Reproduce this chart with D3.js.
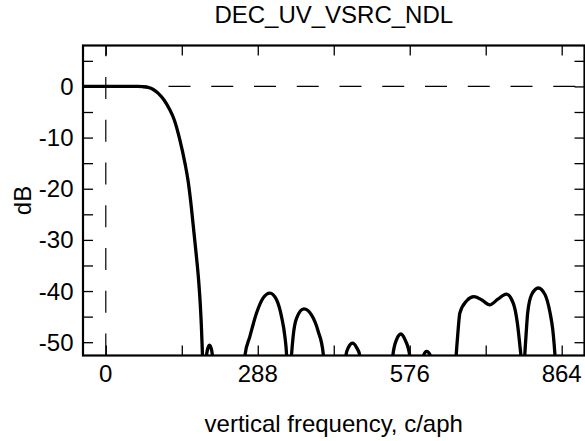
<!DOCTYPE html>
<html>
<head>
<meta charset="utf-8">
<script src="https://cdn.jsdelivr.net/npm/d3@7/dist/d3.min.js"></script>
<style>
  html, body { margin: 0; padding: 0; background: #fff; }
  svg { display: block; }
  text { font-family: "Liberation Sans", Arial, Helvetica, sans-serif; fill: #000; }
</style>
</head>
<body>
<svg id="chart" width="585" height="441"></svg>
<script>
// ---- data ----
const title = "DEC_UV_VSRC_NDL";
const xLabel = "vertical frequency, c/aph";
const yLabel = "dB";

const freq = [
  -43.2, 0, 30, 60, 70, 80, 90, 100, 110, 120, 130, 140, 150, 156, 162, 167, 172, 176, 179, 181, 182.5, 184, 186.5,
  189, 192, 196.5, 201, 204, 230,
  262, 264, 273, 285.7, 298, 311, 323.6, 333, 339.4, 342.6, 344, 347,
  350, 352, 355, 361.6, 375.4, 390, 402.6, 412, 414, 434,
  453, 455, 460, 467.7, 475, 481.5, 483, 512,
  542, 544, 551, 559.3, 567, 576, 578, 590,
  600, 602, 608, 615, 617, 640,
  662, 664, 667, 671, 684, 697.5, 712, 727.5, 743, 759, 772.3, 780, 785, 787, 789, 790.5,
  792, 794, 796.5, 799.5, 807, 819.7, 832.4, 842, 847, 849.5, 851.3, 853, 870, 907.2
];
const gain = [
  0, 0, 0, 0, -0.05, -0.2, -0.6, -1.4, -2.6, -4.3, -6.6, -10.3, -15.0, -18.5, -23.5, -28.5, -33.5, -38, -42.5, -46.5, -50.5, -55, -62,
  -55, -51.8, -50.6, -51.8, -55, -70,
  -56, -52.4, -48.9, -44.3, -41.4, -40.4, -41.7, -45, -48.9, -52.5, -56, -65,
  -56, -52.5, -48.9, -45.3, -43.5, -44.7, -47.9, -52.2, -56, -70,
  -56, -52.6, -51, -50.2, -51, -52.6, -56, -70,
  -56, -52.6, -49.5, -48.4, -49.5, -52.6, -56, -65,
  -56, -52.6, -51.8, -52.6, -56, -70,
  -56, -52.6, -48.5, -44.3, -41.9, -41.1, -41.7, -42.7, -41.6, -40.6, -42.4, -46.3, -50.9, -53, -57, -62,
  -57, -52.6, -48.5, -44.3, -40.7, -39.4, -40.7, -44.3, -47.5, -50.2, -52.6, -56, -70, -75
];

const xDomain = [-43.2, 907.2];
const yDomain = [-52.6, 8];
const xTickValues = [0, 144, 288, 432, 576, 720, 864];
const xTickLabels = [0, 288, 576, 864];
const yTickValues = [5, 0, -5, -10, -15, -20, -25, -30, -35, -40, -45, -50];
const yTickLabels = [0, -10, -20, -30, -40, -50];

// ---- layout ----
const L = 83, R = 584.5, T = 45.5, B = 355.5;
const svg = d3.select("#chart");
const x = d3.scaleLinear().domain(xDomain).range([L, R]);
const y = d3.scaleLinear().domain(yDomain).range([B, T]);

svg.append("defs").append("clipPath").attr("id", "plotclip")
  .append("rect").attr("x", L).attr("y", T).attr("width", R - L).attr("height", B - T);

const plot = svg.append("g").attr("clip-path", "url(#plotclip)");

// dashed reference lines at 0 dB and 0 frequency
plot.append("line")
  .attr("x1", x(xDomain[0])).attr("x2", x(xDomain[1]))
  .attr("y1", y(0)).attr("y2", y(0))
  .attr("stroke", "#000").attr("stroke-width", 1.2)
  .attr("stroke-dasharray", "22,20.75");
plot.append("line")
  .attr("x1", x(0)).attr("x2", x(0))
  .attr("y1", y(yDomain[0])).attr("y2", y(yDomain[1]))
  .attr("stroke", "#000").attr("stroke-width", 1.2)
  .attr("stroke-dasharray", "22,20.75");

// response curve
const pts = freq.map((f, i) => [f, gain[i]]);
const line = d3.line().x(d => x(d[0])).y(d => y(d[1])).curve(d3.curveMonotoneX);
plot.append("path").datum(pts)
  .attr("d", line)
  .attr("fill", "none").attr("stroke", "#000")
  .attr("stroke-width", 3.3).attr("stroke-linejoin", "round");

// axes with inward ticks
const tickLen = 10;
const axBottom = d3.axisBottom(x).tickValues(xTickValues).tickSize(-tickLen).tickFormat("");
const axTop = d3.axisTop(x).tickValues(xTickValues).tickSize(-tickLen).tickFormat("");
const axLeft = d3.axisLeft(y).tickValues(yTickValues).tickSize(-tickLen).tickFormat("");
const axRight = d3.axisRight(y).tickValues(yTickValues).tickSize(-tickLen).tickFormat("");

function styleAxis(g) {
  g.select(".domain").remove();
  g.selectAll(".tick line").attr("stroke", "#000").attr("stroke-width", 1.3);
}
svg.append("g").attr("transform", `translate(0,${B})`).call(axBottom).call(styleAxis);
svg.append("g").attr("transform", `translate(0,${T})`).call(axTop).call(styleAxis);
svg.append("g").attr("transform", `translate(${L},0)`).call(axLeft).call(styleAxis);
svg.append("g").attr("transform", `translate(${R},0)`).call(axRight).call(styleAxis);

// frame
svg.append("rect").attr("x", L).attr("y", T).attr("width", R - L).attr("height", B - T)
  .attr("fill", "none").attr("stroke", "#000").attr("stroke-width", 2.2);

// tick labels
svg.append("g").selectAll("text").data(xTickLabels).join("text")
  .attr("x", d => x(d)).attr("y", 382.3)
  .attr("text-anchor", "middle").attr("font-size", 24)
  .text(d => d);
svg.append("g").selectAll("text").data(yTickLabels).join("text")
  .attr("x", 73.5).attr("y", d => y(d) + 8.5)
  .attr("text-anchor", "end").attr("font-size", 24)
  .text(d => d);

// titles
svg.append("text").attr("x", (L + R) / 2).attr("y", 23.3)
  .attr("text-anchor", "middle").attr("font-size", 24).text(title);
svg.append("text").attr("x", (L + R) / 2).attr("y", 431.5)
  .attr("text-anchor", "middle").attr("font-size", 24).text(xLabel);
svg.append("text").attr("transform", `translate(31,${(T + B) / 2}) rotate(-90)`)
  .attr("text-anchor", "middle").attr("font-size", 24).text(yLabel);
</script>
</body>
</html>
